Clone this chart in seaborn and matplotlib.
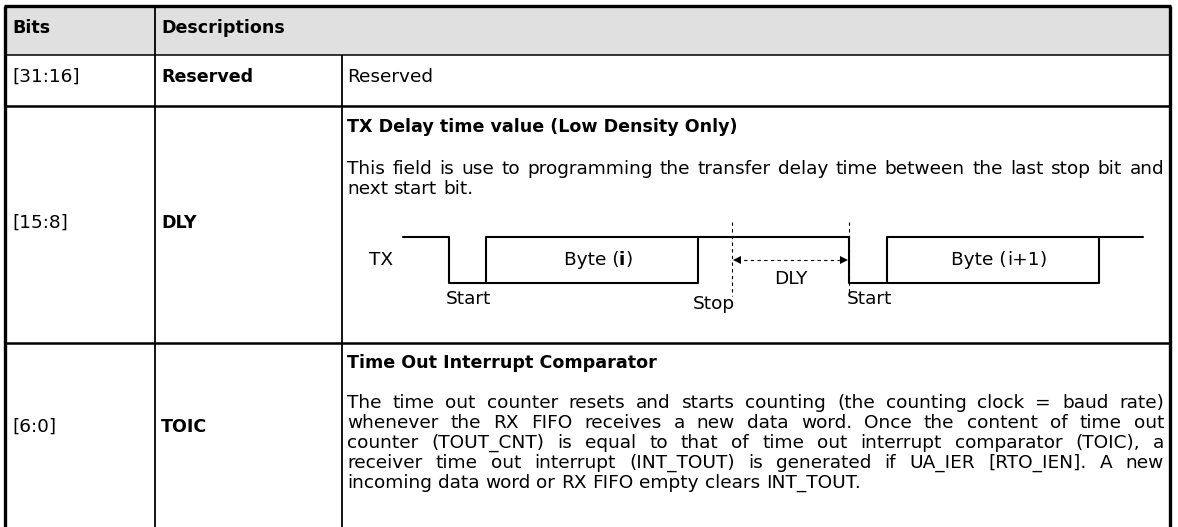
import numpy as np
import pandas as pd
import seaborn as sns
from matplotlib import pyplot as plt
from matplotlib.patches import Rectangle
from matplotlib.font_manager import FontProperties

# Set style
sns.set_theme(style='white')
FONT = 'DejaVu Sans'
plt.rcParams['font.family'] = [FONT]
plt.rcParams['text.color'] = 'black'

# Table content
headers = ['Bits', 'Descriptions']
bits = ['[31:16]', '[15:8]', '[6:0]']
names = ['Reserved', 'DLY', 'TOIC']
titles = ['Reserved', 'TX Delay time value (Low Density Only)', 'Time Out Interrupt Comparator']
dly_lines = ['This field is use to programming the transfer delay time between the last stop bit and',
             'next start bit.']
toic_lines = ['The time out counter resets and starts counting (the counting clock = baud rate)',
              'whenever the RX FIFO receives a new data word. Once the content of time out',
              'counter (TOUT_CNT) is equal to that of time out interrupt comparator (TOIC), a',
              'receiver time out interrupt (INT_TOUT) is generated if UA_IER [RTO_IEN]. A new',
              'incoming data word or RX FIFO empty clears INT_TOUT.']

# TX waveform (time in px along the cell, level 1 = high)
tx_time = [403, 449, 449, 486, 486, 849, 849, 887, 887, 1143]
tx_level = [1, 1, 0, 0, 1, 1, 0, 0, 1, 1]
byte_start = [486, 887]
byte_end = [698, 1099]
byte_labels = [('Byte (', 'i', ')'), ('Byte (', 'i+1', ')')]
byte_bold = [True, False]
dly_marks = [732, 849]

# layout (pixels)
W, H = 1178, 527
row_edges = [6, 55, 106, 343, 527]
col_edges = [5, 155, 342, 1170]
hi_y, lo_y = 237, 283
fs = 13.3
fs_b = 12.6

fig = plt.figure(figsize=(W / 100, H / 100), dpi=100)
ax = fig.add_axes([0, 0, 1, 1])
renderer = fig.canvas.get_renderer()


def text_w(s, bold=False):
    fp = FontProperties(family=FONT, size=fs, weight='bold' if bold else 'normal')
    w, h, d = renderer.get_text_width_height_descent(s, fp, ismath=False)
    return w


def justify(line, x0, x1, y, last=False):
    words = line.split(' ')
    widths = [text_w(w) for w in words]
    gap = text_w(' ')
    if not last:
        gap = max(gap, (x1 - x0 - sum(widths)) / (len(words) - 1))
    x = x0
    for wd, w in zip(words, widths):
        ax.text(x, y, wd, fontsize=fs, va='center', ha='left', color='black')
        x += w + gap


# header background
ax.add_patch(Rectangle((col_edges[0], row_edges[0]), col_edges[-1] - col_edges[0],
                       row_edges[1] - row_edges[0], facecolor='#e0e0e0', edgecolor='none'))

# grid lines
ax.hlines(row_edges[1], col_edges[0], col_edges[-1], color='black', lw=1.1)
ax.hlines(row_edges[2:4], col_edges[0], col_edges[-1], color='black', lw=1.8)
ax.vlines(col_edges[1], row_edges[0], H, color='black', lw=1.3)
ax.vlines(col_edges[2], row_edges[1], H, color='black', lw=1.3)
ax.vlines([col_edges[0], col_edges[-1]], row_edges[0], H, color='black', lw=2.4)
ax.hlines(row_edges[0], col_edges[0] - 1, col_edges[-1] + 1, color='black', lw=2.4)

# header text
ax.text(12, 28, headers[0], fontsize=fs_b, fontweight='bold', va='center')
ax.text(161, 28, headers[1], fontsize=fs_b, fontweight='bold', va='center')

# rows
row_y = [77, 223, 427]
for b, n, y in zip(bits, names, row_y):
    ax.text(12, y, b, fontsize=fs, va='center')
    ax.text(161, y, n, fontsize=fs_b, fontweight='bold', va='center')

ax.text(347, 77, titles[0], fontsize=fs, va='center')
ax.text(347, 127, titles[1], fontsize=fs_b, fontweight='bold', va='center')
ax.text(347, 363, titles[2], fontsize=fs_b, fontweight='bold', va='center')

x0, x1 = 347, 1164
justify(dly_lines[0], x0, x1, 169)
justify(dly_lines[1], x0, x1, 189, last=True)
for i, line in enumerate(toic_lines):
    justify(line, x0, x1, 403 + 20 * i, last=(i == len(toic_lines) - 1))

# TX waveform
wave = pd.DataFrame({'t': tx_time, 'y': [hi_y if v else lo_y for v in tx_level]})
sns.lineplot(data=wave, x='t', y='y', sort=False, estimator=None, color='black', lw=1.5, ax=ax)
for s, e, parts, bold in zip(byte_start, byte_end, byte_labels, byte_bold):
    box = pd.DataFrame({'t': [s, e, e], 'y': [lo_y, lo_y, hi_y]})
    sns.lineplot(data=box, x='t', y='y', sort=False, estimator=None, color='black', lw=1.5, ax=ax)
    weights = ['normal', 'bold' if bold else 'normal', 'normal']
    widths = [text_w(p, wt == 'bold') for p, wt in zip(parts, weights)]
    x = (s + e) / 2 + 6 - sum(widths) / 2
    for p, wt, w in zip(parts, weights, widths):
        ax.text(x, (hi_y + lo_y) / 2, p, fontsize=fs, fontweight=wt, ha='left', va='center')
        x += w

ax.text(381, 260, 'TX', fontsize=fs, ha='center', va='center')

# DLY marker
ax.vlines(dly_marks, 222, 296, color='black', lw=0.8, linestyles=(0, (3, 3)))
ax.hlines(260, dly_marks[0] + 5, dly_marks[1] - 5, color='black', lw=0.8, linestyles=(0, (3, 3)))
ax.plot([dly_marks[0] + 5], [260], marker='<', color='black', ms=6, mew=0)
ax.plot([dly_marks[1] - 5], [260], marker='>', color='black', ms=6, mew=0)
ax.text(sum(dly_marks) / 2, 279, 'DLY', fontsize=fs, ha='center', va='center')

ax.text(446, 299, 'Start', fontsize=fs, va='center')
ax.text(693, 304, 'Stop', fontsize=fs, va='center')
ax.text(847, 299, 'Start', fontsize=fs, va='center')

if ax.get_legend() is not None:
    ax.get_legend().remove()
ax.set_xlim(0, W)
ax.set_ylim(H, 0)
ax.axis('off')

fig.savefig('out.png', dpi=100, facecolor='white')
